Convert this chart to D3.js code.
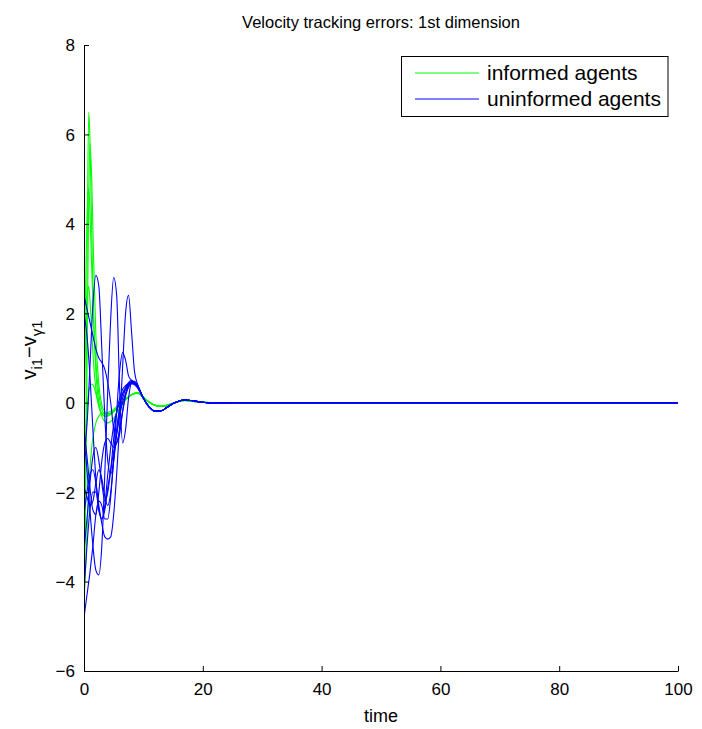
<!DOCTYPE html>
<html>
<head>
<meta charset="utf-8">
<script src="https://cdn.jsdelivr.net/npm/d3@7"></script>
<style>
  html, body { margin: 0; padding: 0; background: #fff; }
  svg { display: block; font-family: "Liberation Sans", Arial, Helvetica, sans-serif; }
</style>
</head>
<body>
<svg id="chart" width="702" height="729"></svg>
<script>
// ---------------- DATA ----------------
const title = "Velocity tracking errors: 1st dimension";
const xLabel = "time";
const xTicks = [0, 20, 40, 60, 80, 100];
const yTicks = [-6, -4, -2, 0, 2, 4, 6, 8];
const legendLabels = ["informed agents", "uninformed agents"];

// informed agents (green)
const greenTime = [0, 0.3, 0.6, 0.8, 1, 1.3, 1.6, 2, 2.5, 3, 3.5, 4, 5, 6, 7, 8,
                   9, 10, 11, 12, 13, 14, 15, 16, 17, 18, 19, 20, 22, 25, 30, 100];
const greenTail = [0.22, 0.12, 0.01, -0.06, -0.08, -0.06, -0.01, 0.03, 0.05, 0.04, 0.02, 0.01, 0.0, 0.0, 0.0, 0.0];
const informed1 = [-4.8, -1.0, 4.5, 6.5, 5.9, 3.8, 2.0, 0.7, 0.0, -0.25, -0.3, -0.3, -0.2, -0.05, 0.08, 0.18];
const informed2 = [-4.0, -2.0, 2.0, 4.6, 5.8, 5.0, 3.3, 1.5, 0.4, -0.05, -0.2, -0.25, -0.2, -0.05, 0.08, 0.18];
const informed3 = [0.5, 2.8, 4.5, 4.8, 4.3, 3.0, 1.9, 0.9, 0.2, -0.15, -0.25, -0.25, -0.18, -0.05, 0.08, 0.18];
const informed4 = [-0.5, 1.6, 2.5, 2.6, 2.3, 1.6, 0.9, 0.3, -0.1, -0.25, -0.3, -0.28, -0.2, -0.05, 0.08, 0.18];
const informed5 = [-1.2, -0.6, 0.0, 0.25, 0.35, 0.42, 0.38, 0.2, -0.05, -0.3, -0.42, -0.45, -0.35, -0.12, 0.06, 0.17];
const informed6 = [-4.5, -3.6, -2.6, -2.0, -1.5, -1.0, -0.7, -0.45, -0.3, -0.25, -0.25, -0.22, -0.15, -0.03, 0.08, 0.18];

// uninformed agents (blue)
const blueTime = [0, 0.5, 1, 1.5, 2, 2.5, 3, 3.5, 4, 4.5, 5, 5.5, 6, 6.5, 7, 7.5, 8, 8.5, 9,
                  10, 11, 12, 13, 14, 15, 16, 17, 18, 19, 20, 22, 25, 30, 100];
const blueTail = [0.1, -0.1, -0.19, -0.18, -0.1, -0.02, 0.04, 0.06, 0.05, 0.03, 0.01, -0.01, 0.0, 0.0, 0.0];
const uninformed1  = [2.4, 2.1, 1.8, 1.5, 1.2, 1.0, 0.9, 0.75, 0.45, 0.0, -0.6, -0.9, -0.7, -0.2, 0.2, 0.4, 0.46, 0.43, 0.35];
const uninformed2  = [-1.2, -0.5, 0.8, 2.2, 2.85, 2.6, 1.2, -0.3, -1.3, -1.6, -1.3, -0.7, -0.2, 0.1, 0.3, 0.42, 0.47, 0.45, 0.38];
const uninformed3  = [-0.8, -1.5, -2.4, -3.2, -3.75, -3.85, -3.2, -1.6, 0.3, 1.9, 2.8, 2.4, 0.3, -0.9, -0.6, 0.1, 0.45, 0.48, 0.4];
const uninformed4  = [-2.5, -2.0, -1.6, -1.5, -1.8, -2.3, -2.7, -3.0, -3.05, -3.0, -2.5, -1.6, -0.5, 0.8, 2.0, 2.4, 1.6, 0.7, 0.42];
const uninformed5  = [-4.8, -4.3, -3.8, -3.2, -2.5, -2.2, -2.3, -2.6, -2.6, -2.1, -1.2, -0.2, 0.7, 1.12, 0.95, 0.6, 0.5, 0.45, 0.38];
const uninformed6  = [-1.9, -2.1, -2.3, -2.2, -1.8, -1.5, -1.7, -2.1, -2.3, -2.0, -1.3, -0.6, -0.1, 0.2, 0.35, 0.45, 0.5, 0.46, 0.38];
const uninformed7  = [-4.2, -3.2, -2.4, -2.0, -2.0, -2.4, -2.6, -2.3, -1.6, -1.0, -0.5, -0.2, 0.0, 0.2, 0.3, 0.4, 0.45, 0.44, 0.36];
const uninformed8  = [-0.6, -1.2, -1.9, -2.4, -2.5, -2.0, -1.3, -0.9, -0.8, -0.9, -1.0, -0.7, -0.3, 0.0, 0.2, 0.35, 0.42, 0.42, 0.36];
const uninformed9  = [-3.3, -2.6, -1.8, -1.2, -1.0, -1.3, -1.8, -2.2, -2.0, -1.5, -0.8, -0.2, 0.1, 0.3, 0.38, 0.43, 0.44, 0.4, 0.33];
const uninformed10 = [2.0, 1.5, 0.6, -0.6, -1.7, -2.4, -2.6, -2.4, -1.9, -1.5, -1.1, -0.9, -0.6, -0.2, 0.15, 0.35, 0.45, 0.44, 0.37];

const informedSeries = [informed1, informed2, informed3, informed4, informed5, informed6]
  .map(s => s.concat(greenTail));
const uninformedSeries = [uninformed1, uninformed2, uninformed3, uninformed4, uninformed5,
  uninformed6, uninformed7, uninformed8, uninformed9, uninformed10]
  .map(s => s.concat(blueTail));

// ---------------- CHART ----------------
const svg = d3.select("#chart");
const mLeft = 84, mRight = 678, mTop = 45, mBottom = 671;
const green = "#00ff00", blue = "#0000ff";

const x = d3.scaleLinear().domain([0, 100]).range([mLeft, mRight]);
const y = d3.scaleLinear().domain([-6, 8]).range([mBottom, mTop]);

svg.append("defs").append("clipPath").attr("id", "clip")
  .append("rect").attr("x", mLeft).attr("y", mTop).attr("width", mRight - mLeft).attr("height", mBottom - mTop);

const plot = svg.append("g").attr("clip-path", "url(#clip)");

function drawSeries(times, series, color) {
  const line = d3.line()
    .x((d, i) => x(times[i]))
    .y(d => y(d))
    .curve(d3.curveMonotoneX);
  plot.append("g").selectAll("path").data(series).join("path")
    .attr("d", line)
    .attr("fill", "none")
    .attr("stroke", color)
    .attr("stroke-width", 1.1);
}
drawSeries(greenTime, informedSeries, green);
drawSeries(blueTime, uninformedSeries, blue);

// axes (MATLAB style, ticks inside)
const fs = 17;
const xAxis = d3.axisBottom(x).tickValues(xTicks).tickSizeInner(-5).tickSizeOuter(0).tickPadding(10);
const gx = svg.append("g").attr("transform", `translate(0,${mBottom})`).call(xAxis);
const yAxis = d3.axisLeft(y).tickValues(yTicks).tickSizeInner(-5).tickSizeOuter(0).tickPadding(9)
  .tickFormat(d => d < 0 ? "\u2212" + Math.abs(d) : d);
const gy = svg.append("g").attr("transform", `translate(${mLeft},0)`).call(yAxis);
[gx, gy].forEach(g => {
  g.selectAll("path.domain").attr("stroke", "#000").attr("stroke-width", 1);
  g.selectAll(".tick line").attr("stroke", "#000");
  g.selectAll("text").attr("font-size", fs).attr("fill", "#000")
    .attr("font-family", '"Liberation Sans", Arial, sans-serif');
});
gx.selectAll("text").attr("dy", "0.8em");
gy.selectAll("text").attr("dy", "0.35em");

// title
svg.append("text").attr("x", (mLeft + mRight) / 2).attr("y", 28)
  .attr("text-anchor", "middle").attr("font-size", 16.5).text(title);

// x label
svg.append("text").attr("x", (mLeft + mRight) / 2).attr("y", 722)
  .attr("text-anchor", "middle").attr("font-size", 18).text(xLabel);

// y label: v_{i1} − v_{γ1}
const yl = svg.append("text")
  .attr("transform", `translate(36,${(mTop + mBottom) / 2 - 8}) rotate(-90)`)
  .attr("text-anchor", "middle").attr("font-size", 20);
yl.append("tspan").text("v");
yl.append("tspan").attr("font-size", 15).attr("dy", 6).text("i1");
yl.append("tspan").attr("dy", -6).text("\u2212v");
yl.append("tspan").attr("font-size", 15).attr("dy", 6).text("\u03b31");

// legend
const lg = svg.append("g");
lg.append("rect").attr("x", 401.5).attr("y", 56.5).attr("width", 266.5).attr("height", 60)
  .attr("fill", "#fff").attr("stroke", "#000").attr("stroke-width", 1);
[[green, 73], [blue, 99]].forEach(([c, yy], i) => {
  lg.append("line").attr("x1", 415).attr("x2", 479).attr("y1", yy).attr("y2", yy)
    .attr("stroke", c).attr("stroke-width", 1.1);
  lg.append("text").attr("x", 487).attr("y", yy).attr("dy", "0.35em")
    .attr("font-size", 21).text(legendLabels[i]);
});
</script>
</body>
</html>
